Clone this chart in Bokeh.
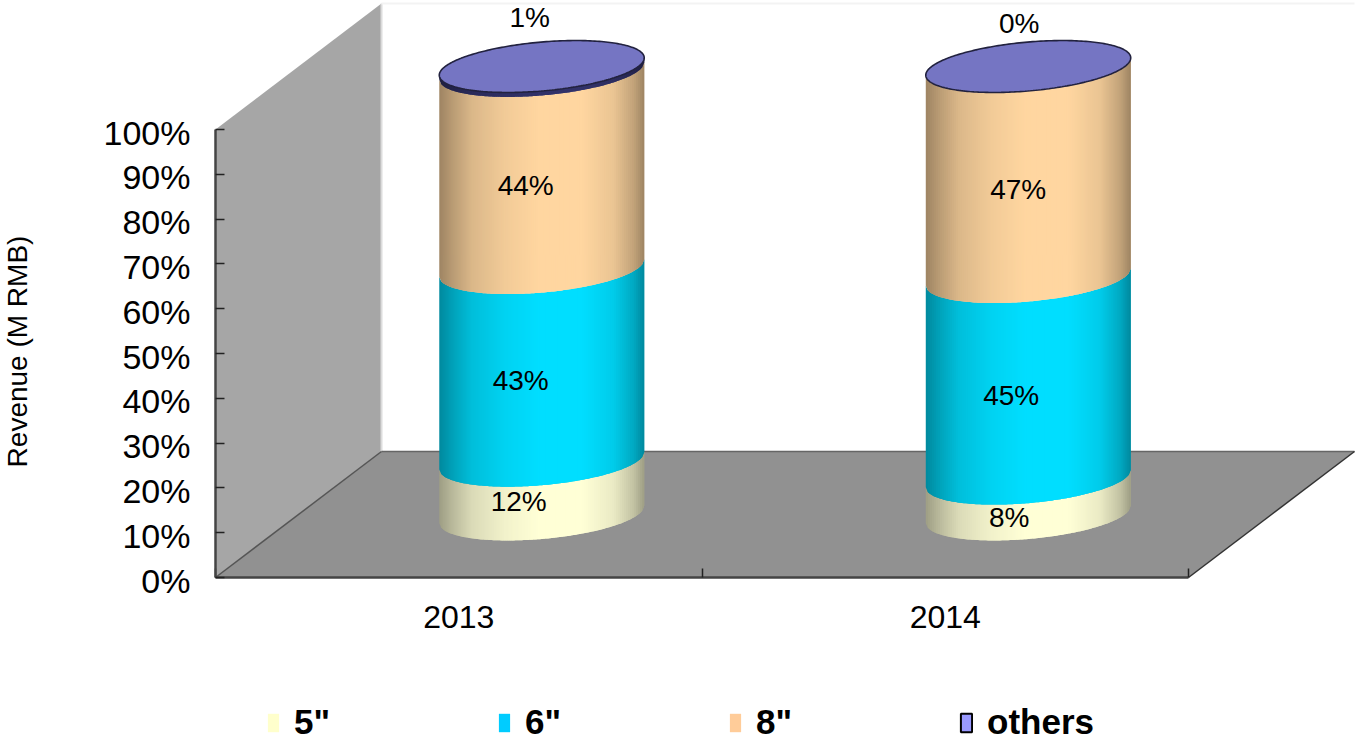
import numpy as np
from bokeh.core.properties import value
from bokeh.embed import file_html
from bokeh.models import FixedTicker, Legend, LegendItem, LinearAxis, Range1d
from bokeh.plotting import figure
from bokeh.resources import INLINE

# Chart data
years = ["2013", "2014"]
series_names = ['5"', '6"', '8"', "others"]
share_5in = [12, 8]
share_6in = [43, 45]
share_8in = [44, 47]
share_others = [1, 0]
value_ticks = list(range(0, 101, 10))

# Projection of the 3D box, in data units (category units across, percent up)
PX_PER_CAT = 486.5
PX_PER_PCT = 4.48
DEPTH_X = 166 / PX_PER_CAT
DEPTH_Y = 126 / PX_PER_PCT
RADIUS_ACROSS = 96.6 / PX_PER_CAT
RADIUS_DEEP = 0.206
STRIPS = 102

PAGE_W, PAGE_H = 1355, 742
ORIGIN_X, ORIGIN_Y = 215, 577
FONT = "Liberation Sans"

highlight = {'5"': (255, 255, 214), '6"': (0, 222, 255), '8"': (255, 214, 160),
             "others": (50, 50, 105)}
swatch = {'5"': "#FFFFCC", '6"': "#00CCFF", '8"': "#FFCC99", "others": "#9999FF"}
TOP_FILL = "#7575C3"

# Shading across the cylinder, from left edge to right edge
shade_pos = [0.0, 0.06, 0.16, 0.32, 0.48, 0.70, 0.85, 0.95, 1.0]
shade_val = [0.62, 0.72, 0.86, 0.95, 1.0, 1.0, 0.92, 0.76, 0.62]

# Pixel nudges for the value labels, per series then per year
label_dx = {'5"': [-23, -19], '6"': [-21, -17], '8"': [-16, -10], "others": [-12, -9]}
label_dy = {'5"': [14, 21], '6"': [16, 18], '8"': [16, 18], "others": [-51, -43]}


def rim(center, level, t):
    """Cylinder rim at a given height, projected into the chart plane."""
    depth = 0.5 + RADIUS_DEEP * np.sin(t)
    xs = center + RADIUS_ACROSS * np.cos(t) + depth * DEPTH_X
    ys = level + depth * DEPTH_Y
    return xs, ys


p = figure(width=PAGE_W, height=PAGE_H, output_backend="svg", toolbar_location=None,
           tools="", x_axis_type=None, y_axis_type=None,
           x_range=Range1d(-ORIGIN_X / PX_PER_CAT, (PAGE_W - ORIGIN_X) / PX_PER_CAT),
           y_range=Range1d((ORIGIN_Y - PAGE_H) / PX_PER_PCT, ORIGIN_Y / PX_PER_PCT),
           min_border_left=0, min_border_right=0, min_border_top=0,
           min_border_bottom=0, outline_line_color=None,
           background_fill_color="white", border_fill_color="white")
p.xgrid.visible = False
p.ygrid.visible = False

x_end = float(len(years))
y_end = float(value_ticks[-1])

# Floor and side wall of the box
p.patch([0, DEPTH_X, x_end + DEPTH_X, x_end], [0, DEPTH_Y, DEPTH_Y, 0],
        fill_color="#919191", line_color=None)
p.patch([0, DEPTH_X, DEPTH_X, 0], [0, DEPTH_Y, DEPTH_Y + y_end, y_end],
        fill_color="#A6A6A6", line_color=None)
p.line([DEPTH_X, DEPTH_X], [DEPTH_Y, DEPTH_Y + y_end], line_color="#DCDCDC", line_width=2)
p.line([DEPTH_X, x_end + DEPTH_X], [DEPTH_Y + y_end] * 2, line_color="#F3F3F3", line_width=2)
p.line([DEPTH_X, x_end + DEPTH_X], [DEPTH_Y, DEPTH_Y], line_color="#666666", line_width=1.5)
p.line([0, DEPTH_X], [0, DEPTH_Y], line_color="#555555", line_width=1.5)
p.line([x_end, x_end + DEPTH_X], [0, DEPTH_Y], line_color="#333333", line_width=1.5)

# Cylinders: each stacked band is a run of thin shaded strips along the front arc.
# A strip reaches over its right neighbour, which then paints on top and hides the seam.
t_right = np.arctan2(RADIUS_DEEP * DEPTH_X, RADIUS_ACROSS)
front_t = np.linspace(t_right + np.pi, t_right + 2 * np.pi, 500)
stack = [share_5in, share_6in, share_8in, share_others]

strip_xs, strip_ys, strip_cols = [], [], []
for i in range(len(years)):
    arc_x, arc_y = rim(i + 0.5, 0.0, front_t)
    edges = np.linspace(arc_x[0], arc_x[-1], STRIPS + 1)
    edge_y = np.interp(edges, arc_x, arc_y)
    base = 0
    for name, shares in zip(series_names, stack):
        top = base + shares[i]
        if shares[i] > 0:
            for k in range(STRIPS):
                far = min(k + 2, STRIPS)
                strip_xs.append([edges[k], edges[k + 1], edges[far], edges[far], edges[k + 1], edges[k]])
                strip_ys.append([base + edge_y[k], base + edge_y[k + 1], base + edge_y[far],
                                 top + edge_y[far], top + edge_y[k + 1], top + edge_y[k]])
                f = np.interp((k + 0.5) / STRIPS, shade_pos, shade_val)
                r, g, b = (int(c * f) for c in highlight[name])
                strip_cols.append(f"#{r:02x}{g:02x}{b:02x}")
        base = top

p.patches(strip_xs, strip_ys, fill_color=strip_cols, line_color=None)

# Lid of each cylinder
all_t = np.linspace(0, 2 * np.pi, 240)
for i in range(len(years)):
    total = share_5in[i] + share_6in[i] + share_8in[i] + share_others[i]
    lid_x, lid_y = rim(i + 0.5, total, all_t)
    p.patch(lid_x, lid_y, fill_color=TOP_FILL, line_color="#22223F", line_width=1.6)

# Value labels
for name, shares in zip(series_names, stack):
    for i in range(len(years)):
        below = sum(s[i] for s in stack[:series_names.index(name)])
        mid = below + shares[i] / 2
        p.text([i + 0.5 + 0.5 * DEPTH_X], [mid + 0.5 * DEPTH_Y], text=[f"{shares[i]}%"],
               x_offset=label_dx[name][i], y_offset=label_dy[name][i],
               text_font=value(FONT), text_font_size="28px", text_color="black",
               text_align="center", text_baseline="middle")

# Value axis on the front-left edge; its labels sit slightly below their ticks
y_axis = LinearAxis(ticker=FixedTicker(ticks=value_ticks), bounds=(0, y_end),
                    fixed_location=0,
                    major_label_overrides={t: "" for t in value_ticks},
                    major_tick_in=9, major_tick_out=0, major_tick_line_color="#222222",
                    major_tick_line_width=1.5, minor_tick_line_color=None,
                    axis_line_color="#444444", axis_line_width=2.5)
p.add_layout(y_axis, "left")
p.text([0] * len(value_ticks), value_ticks, text=[f"{t}%" for t in value_ticks],
       x_offset=-25, y_offset=3, text_font=value(FONT), text_font_size="34px",
       text_color="black", text_align="right", text_baseline="middle")

# Axis title, centred on the value axis
p.text([-198 / PX_PER_CAT], [y_end / 2], text=["Revenue (M RMB)"], angle=np.pi / 2,
       y_offset=-2, text_font=value(FONT), text_font_size="28px", text_color="black",
       text_align="center", text_baseline="middle")

# Category axis: ticks bound the categories, labels sit between them
x_axis = LinearAxis(ticker=FixedTicker(ticks=[0.5, 1.5], minor_ticks=[0, 1, 2]),
                    bounds=(0, x_end), fixed_location=0,
                    major_label_overrides={0.5: years[0], 1.5: years[1]},
                    major_label_text_font=FONT, major_label_text_font_size="32px",
                    major_label_text_color="black", major_label_standoff=28,
                    major_tick_in=0, major_tick_out=0, minor_tick_in=9, minor_tick_out=0,
                    minor_tick_line_color="#222222", minor_tick_line_width=1.5,
                    axis_line_color="#444444", axis_line_width=2.5)
p.add_layout(x_axis, "below")

# Legend with swatches in the flat series colours; the quads exist only to key the legend.
# Bokeh insets area glyphs by a tenth per side, so the glyph box is larger than the swatch.
items = []
for name in series_names:
    outline = "black" if name == "others" else None
    r = p.quad(left=[np.nan], right=[np.nan], top=[np.nan], bottom=[np.nan],
               fill_color=swatch[name], line_color=outline, line_width=2)
    items.append(LegendItem(label=name, renderers=[r]))

legend = Legend(items=items, orientation="horizontal", location=(266, 0),
                glyph_width=14, glyph_height=23, label_standoff=14, spacing=0,
                label_width=203, padding=0, margin=0,
                background_fill_alpha=0, border_line_color=None,
                label_text_font=FONT, label_text_font_style="bold",
                label_text_font_size="35px", label_text_color="black")
p.add_layout(legend, "center")

open("out.html", "w").write(file_html(p, INLINE))
